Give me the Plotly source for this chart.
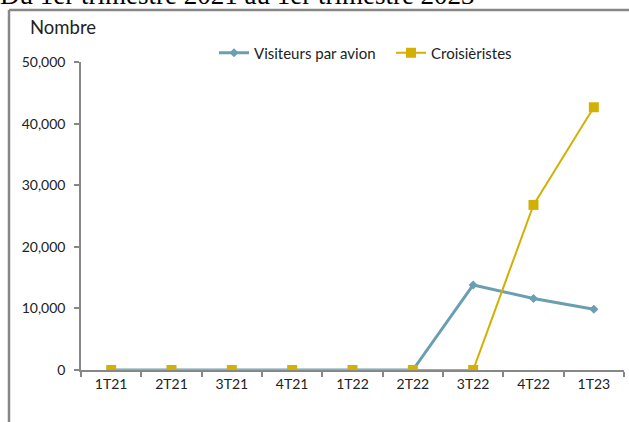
import plotly.graph_objects as go

categories = ["1T21", "2T21", "3T21", "4T21", "1T22", "2T22", "3T22", "4T22", "1T23"]
visiteurs = [0, 0, 0, 0, 0, 0, 13800, 11600, 9850]
croisieristes = [0, 0, 0, 0, 0, 0, 0, 26800, 42650]
y_ticks = [0, 10000, 20000, 30000, 40000, 50000]
y_tick_text = ["0", "10,000", "20,000", "30,000", "40,000", "50,000"]

SHIFT = 5  # page is raised by this many px so the cut-off title sits at the top edge
VW, VH = 629, 422
PL, PR, PT, PB = 81, 624, 62, 370  # plot area in window pixels
W, H = VW, VH + SHIFT
L, R, T, B = PL, VW - PR, PT + SHIFT, VH - PB
pw, ph = PR - PL, PB - PT

def px_x(x):
    return (x - PL) / pw

def px_y(y):
    return (PB - y) / ph

FONT = "Lato"
GRID = "#878787"

fig = go.Figure()
fig.add_trace(go.Scatter(
    x=categories, y=visiteurs, name="Visiteurs par avion", mode="lines+markers",
    line=dict(color="#6A9FB1", width=3),
    marker=dict(symbol="diamond", size=7, color="#6A9FB1"),
))
fig.add_trace(go.Scatter(
    x=categories, y=croisieristes, name="Croisièristes", mode="lines+markers",
    line=dict(color="#D2B104", width=2),
    marker=dict(symbol="square", size=10, color="#D2B104"),
))

fig.update_layout(
    width=W, height=H,
    margin=dict(l=L, r=R, t=T, b=B, autoexpand=False),
    paper_bgcolor="white", plot_bgcolor="white",
    font=dict(family=FONT, size=14, color="#222222"),
    title=dict(text="Du 1er trimestre 2021 au 1er trimestre 2023", xref="container",
               yref="container", x=0, xanchor="left", y=1, yanchor="middle",
               font=dict(family="Liberation Serif", size=27, color="#000000")),
    showlegend=True,
    legend=dict(orientation="h", x=px_x(214), xanchor="left", y=px_y(53), yanchor="middle",
                font=dict(family=FONT, size=15, color="#222222"), bgcolor="rgba(0,0,0,0)",
                itemwidth=30, tracegroupgap=0, entrywidth=132),
    xaxis=dict(type="category", showline=True, linecolor=GRID, linewidth=2,
               ticks="outside", tickson="boundaries", ticklen=5, tickcolor=GRID, tickwidth=1.5,
               showgrid=False, zeroline=False, range=[-0.5, 8.5],
               tickfont=dict(family=FONT, size=14, color="#222222")),
    yaxis=dict(range=[0, 50000], tickvals=y_ticks, ticktext=y_tick_text, showline=True,
               linecolor=GRID, linewidth=1.5, ticks="outside", ticklen=5, tickcolor=GRID,
               tickwidth=1.5, showgrid=False, zeroline=False, ticklabelstandoff=6,
               tickfont=dict(family=FONT, size=14, color="#222222")),
    annotations=[
        dict(text="Nombre", xref="paper", yref="paper", x=px_x(28), y=px_y(27),
             xanchor="left", yanchor="middle", showarrow=False,
             font=dict(family=FONT, size=18.5, color="#222222")),
    ],
    shapes=[
        dict(type="line", xref="paper", yref="paper", x0=px_x(9), x1=px_x(9),
             y0=px_y(10), y1=px_y(440), line=dict(color=GRID, width=2.5)),
        dict(type="line", xref="paper", yref="paper", x0=px_x(9), x1=px_x(640),
             y0=px_y(10), y1=px_y(10), line=dict(color=GRID, width=2.5)),
    ],
)

# remove the page's default body margin and raise the page slightly
fig.write_html("out.html", config={"displayModeBar": False},
               post_script="document.body.style.margin='0';"
                           "document.body.style.marginTop='-%dpx';" % SHIFT)
